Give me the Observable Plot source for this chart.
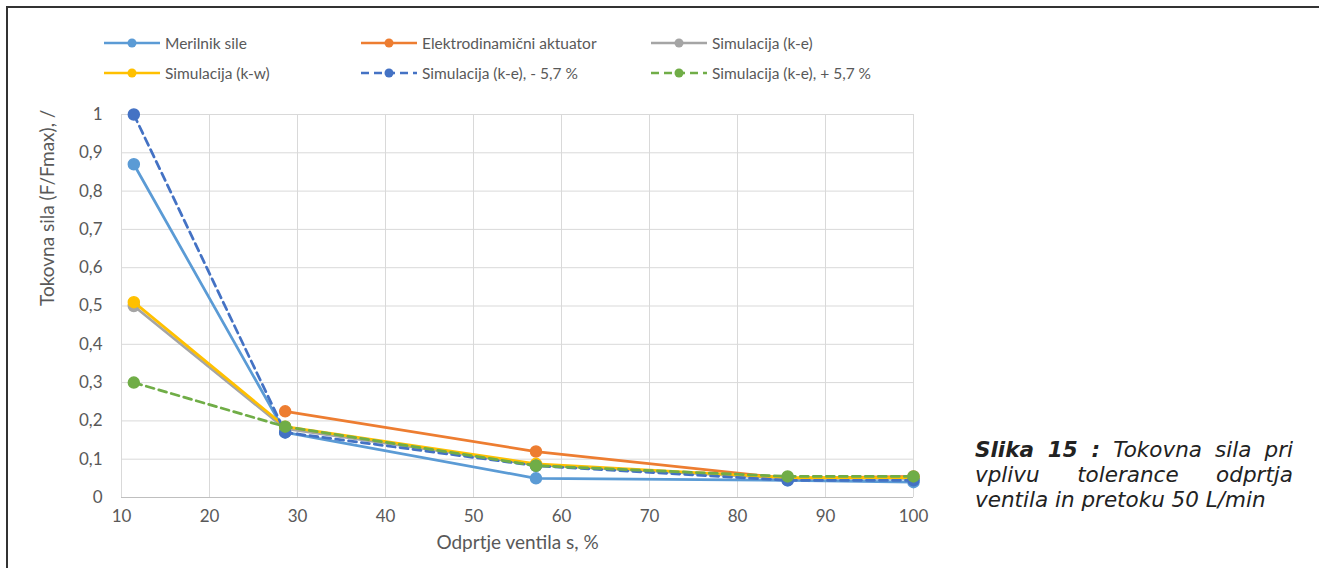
<!DOCTYPE html>
<html>
<head>
<meta charset="utf-8">
<script src="https://cdn.jsdelivr.net/npm/d3@7"></script>
<script src="https://cdn.jsdelivr.net/npm/@observablehq/plot@0.6"></script>
<style>
  html, body { margin: 0; padding: 0; width: 1319px; height: 568px; overflow: hidden; background: #fff; }
  #frame { position: absolute; left: 6px; top: 6px; width: 1400px; height: 700px; border-top: 2px solid #333; border-left: 2px solid #333; }
  #chart { position: absolute; left: 0; top: 90px; }
  .leg { position: absolute; font-family: Lato, "Open Sans", sans-serif; font-size: 15.5px; color: #595959; display: flex; align-items: center; white-space: nowrap; }
  .leg svg { margin-right: 4px; }
  #caption { position: absolute; left: 975px; top: 437px; width: 318px; font-family: "DejaVu Sans", sans-serif; font-style: italic; font-size: 21.5px; line-height: 25px; color: #222; }
  #caption .j { text-align: justify; text-align-last: justify; white-space: nowrap; }
  #caption .l { text-align: left; white-space: nowrap; }
  #caption b { font-weight: 700; }
</style>
</head>
<body>
<div id="frame"></div>
<div id="legend"></div>
<div id="chart"></div>
<div id="caption"><div class="j"><b>Slika 15 :</b> Tokovna sila pri</div><div class="j">vplivu tolerance odprtja</div><div class="l">ventila in pretoku 50 L/min</div></div>
<script>
// ---- data ----
const xValues = [11.4, 28.6, 57.1, 85.7, 100];
const seriesNames = ["Merilnik sile", "Elektrodinamični aktuator", "Simulacija (k-e)", "Simulacija (k-w)", "Simulacija (k-e), - 5,7 %", "Simulacija (k-e), + 5,7 %"];
const merilnik = [0.87, 0.17, 0.05, 0.045, 0.04];
const aktuator = [null, 0.225, 0.12, 0.05, 0.055];
const simKE = [0.50, 0.18, 0.085, 0.05, 0.05];
const simKW = [0.51, 0.185, 0.088, 0.052, 0.052];
const simMinus = [1.0, 0.17, 0.083, 0.045, 0.045];
const simPlus = [0.30, 0.185, 0.083, 0.055, 0.055];
const xTicks = [10, 20, 30, 40, 50, 60, 70, 80, 90, 100];
const yTicks = [0, 0.1, 0.2, 0.3, 0.4, 0.5, 0.6, 0.7, 0.8, 0.9, 1];
const xLabel = "Odprtje ventila s, %";
const yLabel = "Tokovna sila (F/Fmax), /";

// ---- styles ----
const seriesValues = [merilnik, aktuator, simKE, simKW, simMinus, simPlus];
const colors = ["#5B9BD5", "#ED7D31", "#A5A5A5", "#FFC000", "#4472C4", "#70AD47"];
const dashes = [null, null, null, null, "8,5", "8,5"];

const series = seriesNames.map((name, i) => ({
  name, color: colors[i], dash: dashes[i],
  data: xValues.map((x, j) => ({x, y: seriesValues[i][j]})).filter(d => d.y != null)
}));

const marks = [
  Plot.gridX(xTicks, {stroke: "#d9d9d9", strokeOpacity: 1}),
  Plot.gridY(yTicks, {stroke: "#d9d9d9", strokeOpacity: 1}),
  Plot.ruleY([0], {stroke: "#bfbfbf"}),
  Plot.axisX(xTicks, {tickSize: 0, tickPadding: 12, label: null, fontSize: 17}),
  Plot.axisY(yTicks, {tickSize: 0, tickPadding: 19, label: null, fontSize: 17, tickFormat: d => String(d).replace(".", ",")}),
  Plot.text([yLabel], {frameAnchor: "left", dx: -74, rotate: -90, fill: "#595959", fontSize: 19}),
  Plot.text([xLabel], {frameAnchor: "bottom", dy: 51, fill: "#595959", fontSize: 19})
];
for (const s of series) {
  marks.push(Plot.line(s.data, {x: "x", y: "y", stroke: s.color, strokeWidth: 2.75, strokeDasharray: s.dash}));
  marks.push(Plot.dot(s.data, {x: "x", y: "y", r: 5.5, fill: s.color, stroke: s.color}));
}

const chart = Plot.plot({
  width: 960,
  height: 478,
  marginLeft: 121,
  marginRight: 47,
  marginTop: 24,
  marginBottom: 71,
  x: {domain: [10, 100]},
  y: {domain: [0, 1]},
  style: {fontFamily: "Lato, 'Open Sans', sans-serif", fontSize: "17px", color: "#595959", background: "transparent"},
  marks
});
document.getElementById("chart").appendChild(chart);

// ---- legend ----
const legPos = [[103, 43], [360, 43], [650, 43], [103, 73], [360, 73], [650, 73]];
const legend = document.getElementById("legend");
series.forEach((s, i) => {
  const d = document.createElement("div");
  d.className = "leg";
  d.style.left = legPos[i][0] + "px";
  d.style.top = (legPos[i][1] - 10) + "px";
  d.innerHTML = `<svg width="58" height="20"><line x1="1" y1="10" x2="57" y2="10" stroke="${s.color}" stroke-width="2.5" ${s.dash ? `stroke-dasharray="${s.dash}"` : ""}/><circle cx="29" cy="10" r="4.5" fill="${s.color}"/></svg><span>${s.name}</span>`;
  legend.appendChild(d);
});
</script>
</body>
</html>
